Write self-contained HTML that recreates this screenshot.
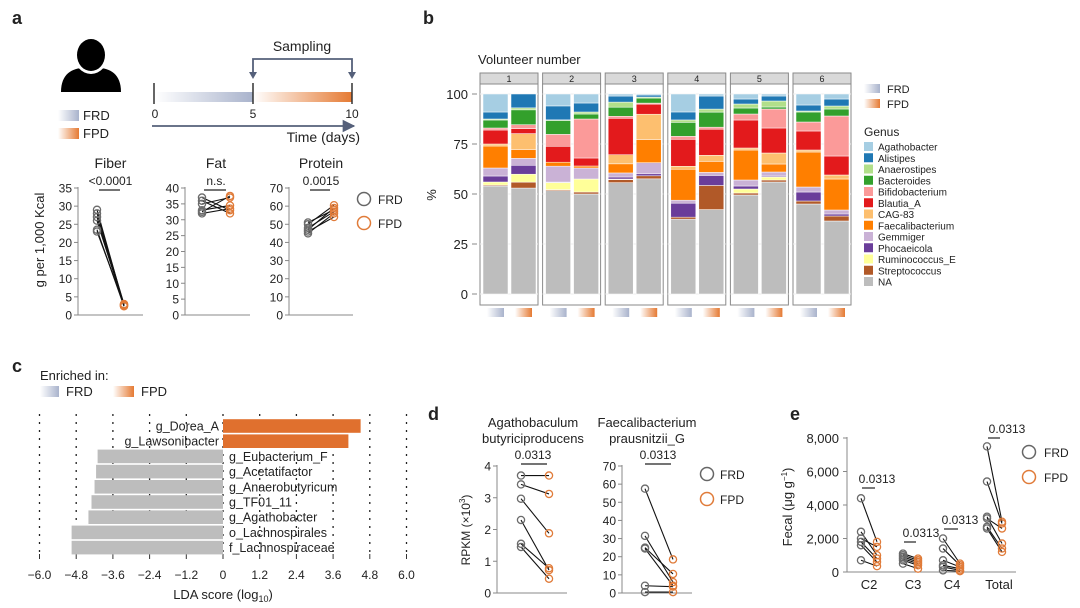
<!DOCTYPE html>
<html><head><meta charset="utf-8">
<style>
html,body{margin:0;padding:0;background:#fff;}
svg{display:block;font-family:"Liberation Sans",sans-serif;}
text{fill:#222;}
</style></head>
<body>
<svg id="fig" width="1080" height="608" viewBox="0 0 1080 608" xmlns="http://www.w3.org/2000/svg">
<defs>
<linearGradient id="gFRD" x1="0" x2="1" y1="0" y2="0"><stop offset="0" stop-color="#ffffff"/><stop offset="1" stop-color="#a9b3cc"/></linearGradient>
<linearGradient id="gFPD" x1="0" x2="1" y1="0" y2="0"><stop offset="0" stop-color="#ffffff"/><stop offset="1" stop-color="#e57a33"/></linearGradient>
<marker id="arr" viewBox="0 0 10 10" refX="9" refY="5" markerWidth="7" markerHeight="7" orient="auto"><path d="M0,0 L10,5 L0,10 z" fill="#55607a"/></marker>
</defs>

<!-- panel letters -->
<text x="12" y="24" font-size="18" font-weight="bold">a</text>
<text x="423" y="24" font-size="18" font-weight="bold">b</text>
<text x="12" y="372" font-size="18" font-weight="bold">c</text>
<text x="428" y="420" font-size="18" font-weight="bold">d</text>
<text x="790" y="420" font-size="18" font-weight="bold">e</text>

<!-- panel a schematic -->
<g>
<path d="M61,92 C61,74 72,68 84,68 L98,68 C110,68 121,74 121,92 Z" fill="#000"/>
<ellipse cx="91" cy="55" rx="17" ry="19" fill="#fff"/>
<ellipse cx="91" cy="55" rx="14" ry="16" fill="#000"/>
</g>
<rect x="58" y="110" width="21" height="11" fill="url(#gFRD)"/>
<text x="83" y="120" font-size="13">FRD</text>
<rect x="58" y="128" width="21" height="11" fill="url(#gFPD)"/>
<text x="83" y="138" font-size="13">FPD</text>
<g>
<rect x="155" y="92" width="98" height="10" fill="url(#gFRD)"/>
<rect x="253" y="92" width="99" height="10" fill="url(#gFPD)"/>
<line x1="154" y1="83" x2="154" y2="104" stroke="#333" stroke-width="1.5"/>
<line x1="253" y1="83" x2="253" y2="104" stroke="#333" stroke-width="1.5"/>
<line x1="352" y1="83" x2="352" y2="104" stroke="#333" stroke-width="1.5"/>
<text x="155" y="118" font-size="12" text-anchor="middle">0</text>
<text x="253" y="118" font-size="12" text-anchor="middle">5</text>
<text x="352" y="118" font-size="12" text-anchor="middle">10</text>
<line x1="152" y1="126" x2="354" y2="126" stroke="#55607a" stroke-width="1.8" marker-end="url(#arr)"/>
<text x="360" y="142" font-size="14" text-anchor="end">Time (days)</text>
<path d="M253,77 L253,59 L352,59 L352,77" fill="none" stroke="#55607a" stroke-width="1.8"/>
<path d="M249,72 L253,79 L257,72 Z M348,72 L352,79 L356,72 Z" fill="#55607a"/>
<text x="302" y="51" font-size="14" text-anchor="middle">Sampling</text>
</g>
<g id="panelA"></g>
<text transform="translate(44,240) rotate(-90)" font-size="13" text-anchor="middle">g per 1,000 Kcal</text>
<g>
<circle cx="364" cy="199" r="6.5" fill="none" stroke="#666" stroke-width="1.5"/><text x="378" y="204" font-size="12">FRD</text>
<circle cx="364" cy="223" r="6.5" fill="none" stroke="#e07b39" stroke-width="1.5"/><text x="378" y="228" font-size="12">FPD</text>
</g>

<!-- panel b -->
<text x="478" y="64" font-size="13">Volunteer number</text>
<text transform="translate(436,195) rotate(-90)" font-size="13" text-anchor="middle">%</text>
<g id="panelB"></g>
<g>
<rect x="864" y="84" width="16" height="9" fill="url(#gFRD)"/><text x="887" y="93" font-size="11">FRD</text>
<rect x="864" y="99" width="16" height="9" fill="url(#gFPD)"/><text x="887" y="108" font-size="11">FPD</text>
<text x="864" y="136" font-size="12">Genus</text>
</g>
<g id="legendB"></g>

<!-- panel c -->
<text x="40" y="380" font-size="13">Enriched in:</text>
<rect x="40" y="386" width="19" height="11" fill="url(#gFRD)"/>
<text x="66" y="396" font-size="13">FRD</text>
<rect x="113" y="386" width="21" height="11" fill="url(#gFPD)"/>
<text x="141" y="396" font-size="13">FPD</text>
<g id="panelC"></g>
<text x="223" y="599" font-size="13" text-anchor="middle">LDA score (log<tspan font-size="9" dy="3">10</tspan><tspan dy="-3">)</tspan></text>

<!-- panel d -->
<g>
<text x="533" y="427" font-size="13" text-anchor="middle">Agathobaculum</text>
<text x="533" y="443" font-size="13" text-anchor="middle">butyriciproducens</text>
<text x="647" y="427" font-size="13" text-anchor="middle">Faecalibacterium</text>
<text x="647" y="443" font-size="13" text-anchor="middle">prausnitzii_G</text>
</g>
<text transform="translate(470,530) rotate(-90)" font-size="12" text-anchor="middle">RPKM (×10<tspan font-size="8" dy="-5">3</tspan><tspan dy="5">)</tspan></text>
<g id="panelD"></g>
<g>
<circle cx="707" cy="474" r="6.5" fill="none" stroke="#666" stroke-width="1.5"/><text x="720" y="479" font-size="12">FRD</text>
<circle cx="707" cy="499" r="6.5" fill="none" stroke="#e07b39" stroke-width="1.5"/><text x="720" y="504" font-size="12">FPD</text>
</g>

<!-- panel e -->
<text transform="translate(792,507) rotate(-90)" font-size="13" text-anchor="middle">Fecal (μg g<tspan font-size="8" dy="-5">−1</tspan><tspan dy="5">)</tspan></text>
<g id="panelE"></g>
<g>
<circle cx="1029" cy="452" r="6.5" fill="none" stroke="#666" stroke-width="1.5"/><text x="1044" y="457" font-size="12">FRD</text>
<circle cx="1029" cy="477" r="6.5" fill="none" stroke="#e07b39" stroke-width="1.5"/><text x="1044" y="482" font-size="12">FPD</text>
</g>
</svg>

<script>
// ---------- Panel a data ----------
const dietNutrients = ["Fiber", "Fat", "Protein"];
const dietPValues = ["<0.0001", "n.s.", "0.0015"];
const dietTicks = [[0,5,10,15,20,25,30,35],[0,5,10,15,20,25,30,35,40],[0,10,20,30,40,50,60,70]];
const fiberFRD = [29, 28, 27, 26, 23.5, 23];
const fiberFPD = [2.5, 3, 2.8, 2.6, 2.4, 3];
const fatFRD = [37, 36, 35, 33, 32.5, 32];
const fatFPD = [33, 32, 37, 34.5, 37.5, 33.5];
const proteinFRD = [51, 50, 48, 47, 46, 45];
const proteinFPD = [58, 60.5, 57, 59, 54, 56];

// ---------- Panel b data ----------
const genera = ["Agathobacter","Alistipes","Anaerostipes","Bacteroides","Bifidobacterium","Blautia_A","CAG-83","Faecalibacterium","Gemmiger","Phocaeicola","Ruminococcus_E","Streptococcus","NA"];
const volunteers = ["1","2","3","4","5","6"];
const bTicks = [0,25,50,75,100];
// values listed bottom-to-top: NA, Streptococcus, Ruminococcus_E, Phocaeicola, Gemmiger, Faecalibacterium, CAG-83, Blautia_A, Bifidobacterium, Bacteroides, Anaerostipes, Alistipes, Agathobacter
const v1FRD = [54,0.5,1.5,3,4,11,1,7,1,4,0.5,3.5,9];
const v1FPD = [53.5,3,4,4.5,3.5,4.5,8,2.5,2,7.5,1,7,0];
const v2FRD = [52,0.5,3.5,0.3,8,2,0,8,6,7,0.3,7,6];
const v2FPD = [50,1,6.5,0,5.5,1,0,4,19.5,2.5,1,4.5,4.5];
const v3FRD = [55,1.5,0.3,1,2,4.5,4.5,18,1,4.5,2.5,3,1];
const v3FPD = [57,1.5,0,1,5.5,11.5,12.5,5,0.5,2.5,0.5,1,0.5];
const v4FRD = [37.5,1,0,7,1.5,15.5,1.5,13.5,1.5,7,1.2,4,9];
const v4FPD = [42,12,0,5,1.5,5.5,3,13,1,7.5,1.5,6.5,1];
const v5FRD = [49.5,1,2,1.5,3,15,1,14,3,3,2,2.5,2.5];
const v5FPD = [56,1,1.5,0.5,2,4,5.5,12.5,9.5,1,3,2.5,1];
const v6FRD = [45,1.5,0,4.5,2.5,17.5,1,9.5,4.5,5,0.5,3,5.5];
const v6FPD = [36.5,2.5,0,1,2,15.5,2,9.5,20,3.5,1.5,3.5,2.5];

// ---------- Panel c data ----------
const ldaTaxa = ["g_Dorea_A","g_Lawsonibacter","g_Eubacterium_F","g_Acetatifactor","g_Anaerobutyricum","g_TF01_11","g_Agathobacter","o_Lachnospirales","f_Lachnospiraceae"];
const ldaScores = [4.5, 4.1, -4.1, -4.15, -4.2, -4.3, -4.4, -4.95, -4.95];
const ldaTicks = [-6.0,-4.8,-3.6,-2.4,-1.2,0,1.2,2.4,3.6,4.8,6.0];

// ---------- Panel d data ----------
const agathFRD = [3.7, 3.42, 2.97, 2.3, 1.55, 1.45];
const agathFPD = [3.7, 3.12, 1.88, 0.72, 0.78, 0.45];
const faecFRD = [57.5, 31.5, 25, 24.5, 4, 0.5];
const faecFPD = [18.5, 6, 10.5, 4, 3.5, 0.5];
const agathTicks = [0,1,2,3,4];
const faecTicks = [0,10,20,30,40,50,60,70];

// ---------- Panel e data ----------
const scfaCategories = ["C2","C3","C4","Total"];
const scfaTicks = [0,2000,4000,6000,8000];
const scfaTickLabels = ["0","2,000","4,000","6,000","8,000"];
const c2FRD = [4400, 2400, 2000, 1800, 1600, 700];
const c2FPD = [1800, 1000, 1500, 800, 600, 350];
const c3FRD = [1100, 1000, 900, 800, 700, 500];
const c3FPD = [800, 700, 600, 500, 400, 200];
const c4FRD = [2000, 1400, 700, 400, 300, 100];
const c4FPD = [500, 400, 300, 200, 100, 50];
const totFRD = [7500, 5400, 3300, 3200, 2700, 2600];
const totFPD = [3000, 2900, 1700, 2600, 1400, 1200];

const NS = "http://www.w3.org/2000/svg";
function mk(parent, tag, attrs, txt) {
  const e = document.createElementNS(NS, tag);
  for (const k in attrs) e.setAttribute(k, attrs[k]);
  if (txt !== undefined) e.textContent = txt;
  parent.appendChild(e);
  return e;
}
const GREY = "#6b6b6b", ORANGE = "#e07b39";

// generic paired plot
function pairedPlot(g, name, axX, axEnd, y0, yTop, vmax, ticks, tickLabels, xF, xP, frd, fpd, fs) {
  const ys = v => y0 - (v / vmax) * (y0 - yTop);
  const ax = mk(g, "line", {x1: axX, y1: yTop - 1, x2: axX, y2: y0, stroke: "#888", "stroke-width": 1});
  
  
  const bx = mk(g, "line", {x1: axX, y1: y0, x2: axEnd, y2: y0, stroke: "#888", "stroke-width": 1});
  
  
  ticks.forEach((t, i) => {
    const tk = mk(g, "line", {x1: axX - 4, y1: ys(t), x2: axX, y2: ys(t), stroke: "#888"});
    
    
    const tl = mk(g, "text", {x: axX - 6, y: ys(t) + 4.5, "font-size": fs, "text-anchor": "end", fill: "#333"}, tickLabels ? tickLabels[i] : String(t));
    
    
  });
  frd.forEach((v, i) => {
    const l = mk(g, "line", {x1: xF, y1: ys(v), x2: xP, y2: ys(fpd[i]), stroke: "#111", "stroke-width": 1.1});
    
    
  });
  frd.forEach(v => {
    const c = mk(g, "circle", {cx: xF, cy: ys(v), r: 3.6, fill: "none", stroke: GREY, "stroke-width": 1.3});
    
    
  });
  fpd.forEach(v => {
    const c = mk(g, "circle", {cx: xP, cy: ys(v), r: 3.6, fill: "none", stroke: ORANGE, "stroke-width": 1.3});
    
    
  });
}
function pLabel(g, name, cx, y, txt, u1, u2) {
  const t = mk(g, "text", {x: cx, y: y, "font-size": 12, "text-anchor": "middle", fill: "#222"}, txt);
  
  
  const l = mk(g, "line", {x1: u1, y1: y + 5, x2: u2, y2: y + 5, stroke: "#222", "stroke-width": 1.2});
  
  
}

// ---------- Panel a ----------
(function () {
  const g = document.getElementById("panelA");
  const axXs = [78, 185, 289], axEnds = [143, 250, 353], xFs = [97, 202, 308], xPs = [124, 230, 334];
  const maxes = [35, 40, 70];
  const F = [fiberFRD, fatFRD, proteinFRD], P = [fiberFPD, fatFPD, proteinFPD];
  dietNutrients.forEach((n, i) => {
    const nm = n.toLowerCase();
    pairedPlot(g, nm, axXs[i], axEnds[i], 315, 188, maxes[i], dietTicks[i], null, xFs[i], xPs[i], F[i], P[i], 12);
    const cx = (xFs[i] + xPs[i]) / 2;
    const t = mk(g, "text", {x: cx, y: 168, "font-size": 14, "text-anchor": "middle"}, n);
    
    
    pLabel(g, nm, cx, 185, dietPValues[i], xFs[i] + 2, xPs[i] - 4);
  });
})();

// ---------- Panel b ----------
const genusColors = ["#a6cee3","#1f78b4","#b2df8a","#33a02c","#fb9a99","#e31a1c","#fdbf6f","#ff7f00","#cab2d6","#6a3d9a","#ffff99","#b15928","#bdbdbd"];
(function () {
  const g = document.getElementById("panelB");
  const stacks = [[v1FRD, v1FPD], [v2FRD, v2FPD], [v3FRD, v3FPD], [v4FRD, v4FPD], [v5FRD, v5FPD], [v6FRD, v6FPD]];
  const y0 = 294, yTop = 94;
  const ys = v => y0 - v / 100 * (y0 - yTop);
  bTicks.forEach(t => {
    const tl = mk(g, "text", {x: 468, y: ys(t) + 5, "font-size": 13, "text-anchor": "end", fill: "#333"}, String(t));
    
    
    const tk = mk(g, "line", {x1: 472, y1: ys(t), x2: 477, y2: ys(t), stroke: "#888"});
    
    
  });
  volunteers.forEach((vol, f) => {
    const fx = 480 + f * 62.6, fw = 58;
    const strip = mk(g, "rect", {x: fx, y: 73, width: fw, height: 11, fill: "#d9d9d9", stroke: "#8a8a8a", "stroke-width": 1});
    
    
    const st = mk(g, "text", {x: fx + fw / 2, y: 82, "font-size": 9, "text-anchor": "middle"}, vol);
    
    
    const box = mk(g, "rect", {x: fx, y: 84, width: fw, height: 221, fill: "#fff", stroke: "#8a8a8a", "stroke-width": 1});
    
    
    bTicks.forEach(t => {
      const gl = mk(g, "line", {x1: fx, y1: ys(t), x2: fx + fw, y2: ys(t), stroke: "#eeeeee"});
      
      
    });
    stacks[f].forEach((vals, s) => {
      const bx = fx + 3 + s * 28, bw = 25;
      const sum = vals.reduce((a, b) => a + b, 0);
      let cum = 0;
      vals.forEach((v, k) => {
        const gi = genera.length - 1 - k;
        const top = cum + v / sum * 100;
        if (v > 0) {
          const r = mk(g, "rect", {x: bx, y: ys(top), width: bw, height: ys(cum) - ys(top), fill: genusColors[gi], stroke: "#fff", "stroke-width": 0.5});
          
          
        }
        cum = top;
      });
      const sw = mk(g, "rect", {x: bx + 4, y: 308, width: 17, height: 9, fill: s === 0 ? "url(#gFRD)" : "url(#gFPD)"});
      
      
    });
  });
  const lg = document.getElementById("legendB");
  genera.forEach((n, i) => {
    const y = 142 + i * 11.25;
    const r = mk(lg, "rect", {x: 864, y: y, width: 9, height: 9, fill: genusColors[i]});
    
    
    const t = mk(lg, "text", {x: 878, y: y + 8.5, "font-size": 10}, n);
    
    
  });
})();

// ---------- Panel c ----------
(function () {
  const g = document.getElementById("panelC");
  const x0 = 223, k = (407 - 40) / 12;
  const xs = v => x0 + v * k;
  ldaTicks.forEach(t => {
    const d = mk(g, "line", {x1: xs(t), y1: 414, x2: xs(t), y2: 552, stroke: "#222", "stroke-width": 1.3, "stroke-dasharray": "2,6"});
    
    
    const tk = mk(g, "line", {x1: xs(t), y1: 554, x2: xs(t), y2: 559, stroke: "#333", "stroke-width": 1});
    
    
    const lbl = t === 0 ? "0" : (t < 0 ? "−" : "") + Math.abs(t).toFixed(1);
    const tl = mk(g, "text", {x: xs(t), y: 579, "font-size": 12, "text-anchor": "middle", fill: "#333"}, lbl);
    
    
  });
  ldaTaxa.forEach((n, i) => {
    const yc = 426 + i * 15.2, v = ldaScores[i];
    const x1 = Math.min(xs(0), xs(v)), w = Math.abs(xs(v) - xs(0));
    const r = mk(g, "rect", {x: x1, y: yc - 6.8, width: w, height: 13.6, fill: v > 0 ? "#e0702e" : "#bdbdbd"});
    
    
    const t = mk(g, "text", {x: v > 0 ? xs(0) - 4 : xs(0) + 6, y: yc + 4.5, "font-size": 12.5, "text-anchor": v > 0 ? "end" : "start", fill: "#222"}, n);
    
    
  });
})();

// ---------- Panel d ----------
(function () {
  const g = document.getElementById("panelD");
  pairedPlot(g, "agathobaculum", 497, 567, 593, 466, 4, agathTicks, null, 521, 549, agathFRD, agathFPD, 12);
  pLabel(g, "agathobaculum", 533, 459, "0.0313", 521, 547);
  pairedPlot(g, "faecalibacterium", 622, 692, 593, 466, 70, faecTicks, null, 645, 673, faecFRD, faecFPD, 12);
  pLabel(g, "faecalibacterium", 658, 459, "0.0313", 645, 671);
})();

// ---------- Panel e ----------
(function () {
  const g = document.getElementById("panelE");
  const y0 = 572, yTop = 438, vmax = 8000;
  const ys = v => y0 - v / vmax * (y0 - yTop);
  const axX = 847;
  const a = mk(g, "line", {x1: axX, y1: yTop - 1, x2: axX, y2: y0, stroke: "#888"});
  
  
  const b = mk(g, "line", {x1: axX, y1: y0, x2: 1016, y2: y0, stroke: "#888"});
  
  
  scfaTicks.forEach((t, i) => {
    const tk = mk(g, "line", {x1: axX - 4, y1: ys(t), x2: axX, y2: ys(t), stroke: "#888"});
    
    
    const tl = mk(g, "text", {x: axX - 8, y: ys(t) + 5, "font-size": 13, "text-anchor": "end", fill: "#333"}, scfaTickLabels[i]);
    
    
  });
  const F = [c2FRD, c3FRD, c4FRD, totFRD], P = [c2FPD, c3FPD, c4FPD, totFPD];
  const xF = [861, 903, 943, 987], xP = [877, 918, 960, 1002];
  const lx = [869, 913, 952, 999];
  const pY = [483, 537, 524, 433];
  scfaCategories.forEach((c, i) => {
    F[i].forEach((v, j) => {
      const l = mk(g, "line", {x1: xF[i], y1: ys(v), x2: xP[i], y2: ys(P[i][j]), stroke: "#111", "stroke-width": 1.1});
      
      
    });
    F[i].forEach(v => {
      const cc = mk(g, "circle", {cx: xF[i], cy: ys(v), r: 3.6, fill: "none", stroke: GREY, "stroke-width": 1.3});
      
      
    });
    P[i].forEach(v => {
      const cc = mk(g, "circle", {cx: xP[i], cy: ys(v), r: 3.6, fill: "none", stroke: ORANGE, "stroke-width": 1.3});
      
      
    });
    const t = mk(g, "text", {x: lx[i], y: 589, "font-size": 13, "text-anchor": "middle", fill: "#222"}, c);
    
    
    pLabel(g, "e-" + c.toLowerCase(), lx[i] + 8, pY[i], "0.0313", xF[i] + 1, xP[i] - 2);
  });
})();
</script>
</body></html>
